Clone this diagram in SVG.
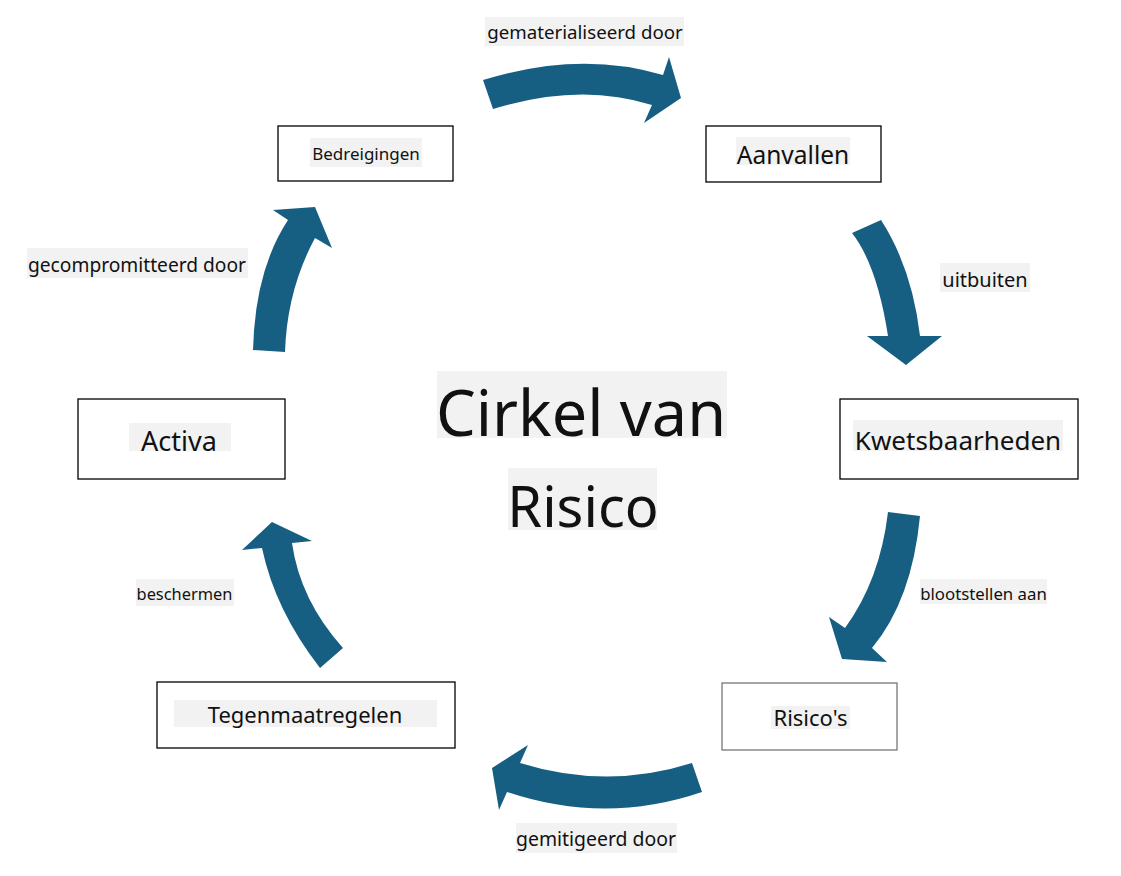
<svg xmlns="http://www.w3.org/2000/svg" width="1121" height="876" viewBox="0 0 1121 876">
<style>
.box{fill:#fff;stroke:#000;stroke-width:1.3}
.bg{fill:#f2f2f2}
.t{font-family:"Noto Sans","Open Sans","DejaVu Sans",sans-serif;fill:#111;text-anchor:middle}
.arr{fill:#175f82}
</style>
<rect width="1121" height="876" fill="#fff"/>
<g id="connectors">
<path class="arr" d="M483,80 Q580,50 663,75 L669,57 L681,98 L644,123 L652,105 Q580,82 493,109 Z"/>
<path class="arr" d="M852,233 L881,220 Q912,268 920,336 L942,336 L906,365 L867,336 L888,336 Q877,265 852,233 Z"/>
<path class="arr" d="M888,512 L920,516 Q912,600 872,648 L887,662 L842,659 L829,617 L845,628 Q880,580 888,512 Z"/>
<path class="arr" d="M692,763 Q607,790 520,763 L528,745 L492,768 L499,810 L507,792 Q605,825 702,792 Z"/>
<path class="arr" d="M343,648 L320,668 Q275,610 262,548 L242,550 L272,522 L312,541 L292,543 Q300,600 343,648 Z"/>
<path class="arr" d="M253,350 Q255,270 288,220 L273,210 L315,207 L332,248 L315,238 Q287,290 285,352 Z"/>
<rect class="bg" x="485" y="17" width="199" height="29"/>
<text class="t" x="585" y="39" font-size="18.7">gematerialiseerd door</text>
<rect class="bg" x="940" y="263" width="90" height="29"/>
<text class="t" x="985" y="287" font-size="20">uitbuiten</text>
<rect class="bg" x="920" y="579" width="127" height="25"/>
<text class="t" x="983.5" y="600" font-size="16.8">blootstellen aan</text>
<rect class="bg" x="516" y="823" width="161" height="30"/>
<text class="t" x="596" y="846" font-size="19.4">gemitigeerd door</text>
<rect class="bg" x="136" y="579" width="98" height="27"/>
<text class="t" x="184.5" y="600" font-size="16.4">beschermen</text>
<rect class="bg" x="27" y="248" width="221" height="30"/>
<text class="t" x="137" y="272" font-size="19.2">gecompromitteerd door</text>
</g>
<g id="title">
<rect class="bg" x="437" y="371" width="290" height="67"/>
<text class="t" x="581" y="436" font-size="63">Cirkel van</text>
<rect class="bg" x="508" y="468" width="149" height="62"/>
<text class="t" x="583" y="527" font-size="56">Risico</text>
</g>
<g id="node-bedreigingen">
<rect class="box" x="278" y="126" width="175" height="55"/>
<rect class="bg" x="310" y="138" width="112" height="29"/>
<text class="t" x="366" y="160" font-size="17">Bedreigingen</text>
</g>
<g id="node-aanvallen">
<rect class="box" x="706" y="126" width="175" height="56"/>
<rect class="bg" x="736" y="137" width="114" height="28"/>
<text class="t" x="793" y="164" font-size="24.5">Aanvallen</text>
</g>
<g id="node-kwetsbaarheden">
<rect class="box" x="840" y="399" width="238" height="80"/>
<rect class="bg" x="853" y="420" width="210" height="31"/>
<text class="t" x="958" y="450" font-size="26">Kwetsbaarheden</text>
</g>
<g id="node-risicos">
<rect class="box" x="722" y="683" width="175" height="67" style="stroke:#777"/>
<rect class="bg" x="771" y="706" width="79" height="23"/>
<text class="t" x="810.5" y="726" font-size="22">Risico's</text>
</g>
<g id="node-tegenmaatregelen">
<rect class="box" x="157" y="682" width="298" height="66"/>
<rect class="bg" x="174" y="700" width="263" height="27"/>
<text class="t" x="305" y="723" font-size="22">Tegenmaatregelen</text>
</g>
<g id="node-activa">
<rect class="box" x="78" y="399" width="207" height="80"/>
<rect class="bg" x="129" y="423" width="102" height="28"/>
<text class="t" x="179" y="451" font-size="27">Activa</text>
</g>
</svg>
